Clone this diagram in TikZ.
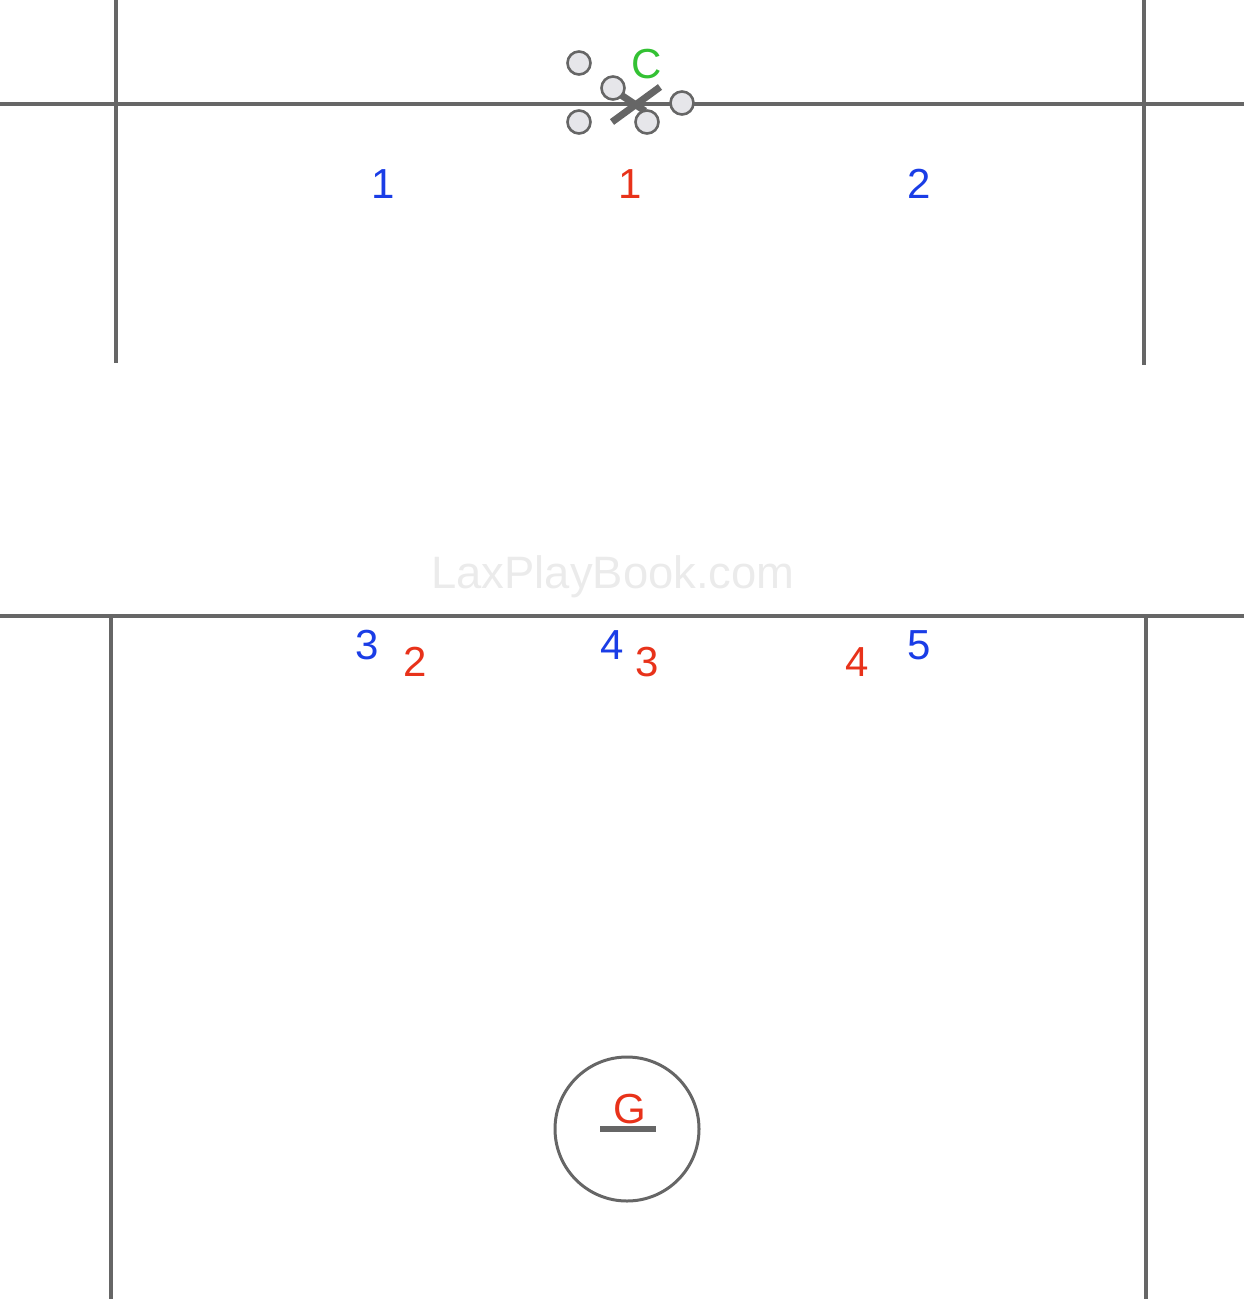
\documentclass[tikz,border=0pt]{standalone}
\usepackage{fontspec}
\setmainfont{Liberation Sans}
\usepackage{tikz}
\usetikzlibrary{calc,positioning}
\definecolor{fieldgray}{HTML}{666666}
\definecolor{offblue}{HTML}{1A3DE6}
\definecolor{defred}{HTML}{E8321A}
\definecolor{cgreen}{HTML}{33C133}
\definecolor{markgray}{HTML}{EBEBEB}
\definecolor{dotfill}{HTML}{E6E6EA}
\tikzset{
  fieldline/.style={draw=fieldgray, line width=2pt},
  attack/.style={text=offblue, inner sep=0pt, font=\fontsize{21}{21}\selectfont},
  defend/.style={text=defred, inner sep=0pt, font=\fontsize{21}{21}\selectfont},
  wingdot/.style={circle, draw=fieldgray, fill=dotfill, line width=1.3pt, minimum size=11.5pt, inner sep=0pt},
}
\begin{document}
\begin{tikzpicture}[x=0.5pt,y=-0.5pt]
\useasboundingbox (0,0) rectangle (1244,1299);
\node[text=markgray, font=\fontsize{22.7}{22.7}\selectfont, inner sep=0pt] (mark) at (613,577) {LaxPlayBook.com};
\draw[fieldline] (0,104) -- (1244,104);
\draw[fieldline] (116,0) -- (116,363);
\draw[fieldline] (1144,0) -- (1144,365);
\draw[fieldline] (0,616) -- (1244,616);
\draw[fieldline] (111,616) -- (111,1299);
\draw[fieldline] (1146,616) -- (1146,1299);
\draw[draw=fieldgray, line width=3.5pt] (612,122) -- (660,87);
\draw[draw=fieldgray, line width=3.5pt] (621,95) -- (645,111);
\node[wingdot] (w1) at (579,63) {};
\node[wingdot] (w2) at (613,88) {};
\node[wingdot] (w3) at (682,103) {};
\node[wingdot] (w4) at (579,122) {};
\node[wingdot] (w5) at (647,122) {};
\node[text=cgreen, inner sep=0pt, font=\fontsize{21}{21}\selectfont] (c) at (647,64) {C};
\node[attack] (a1) at (383,184) {1};
\node[defend] (d1) at (630,184) {1};
\node[attack] (a2) at (919,184) {2};
\node[attack] (a3) at (367,645) {3};
\node[defend] (d2) at (415,662) {2};
\node[attack] (a4) at (612,645) {4};
\node[defend] (d3) at (647,662) {3};
\node[defend] (d4) at (857,662) {4};
\node[attack] (a5) at (919,645) {5};
\node[draw=fieldgray, line width=1.5pt, circle, minimum size=72pt, inner sep=0pt] (crease) at (627,1129) {};
\draw[draw=fieldgray, line width=3pt] (600,1129) -- (656,1129);
\node[defend] (g) at (630,1109) {G};
\end{tikzpicture}
\end{document}
